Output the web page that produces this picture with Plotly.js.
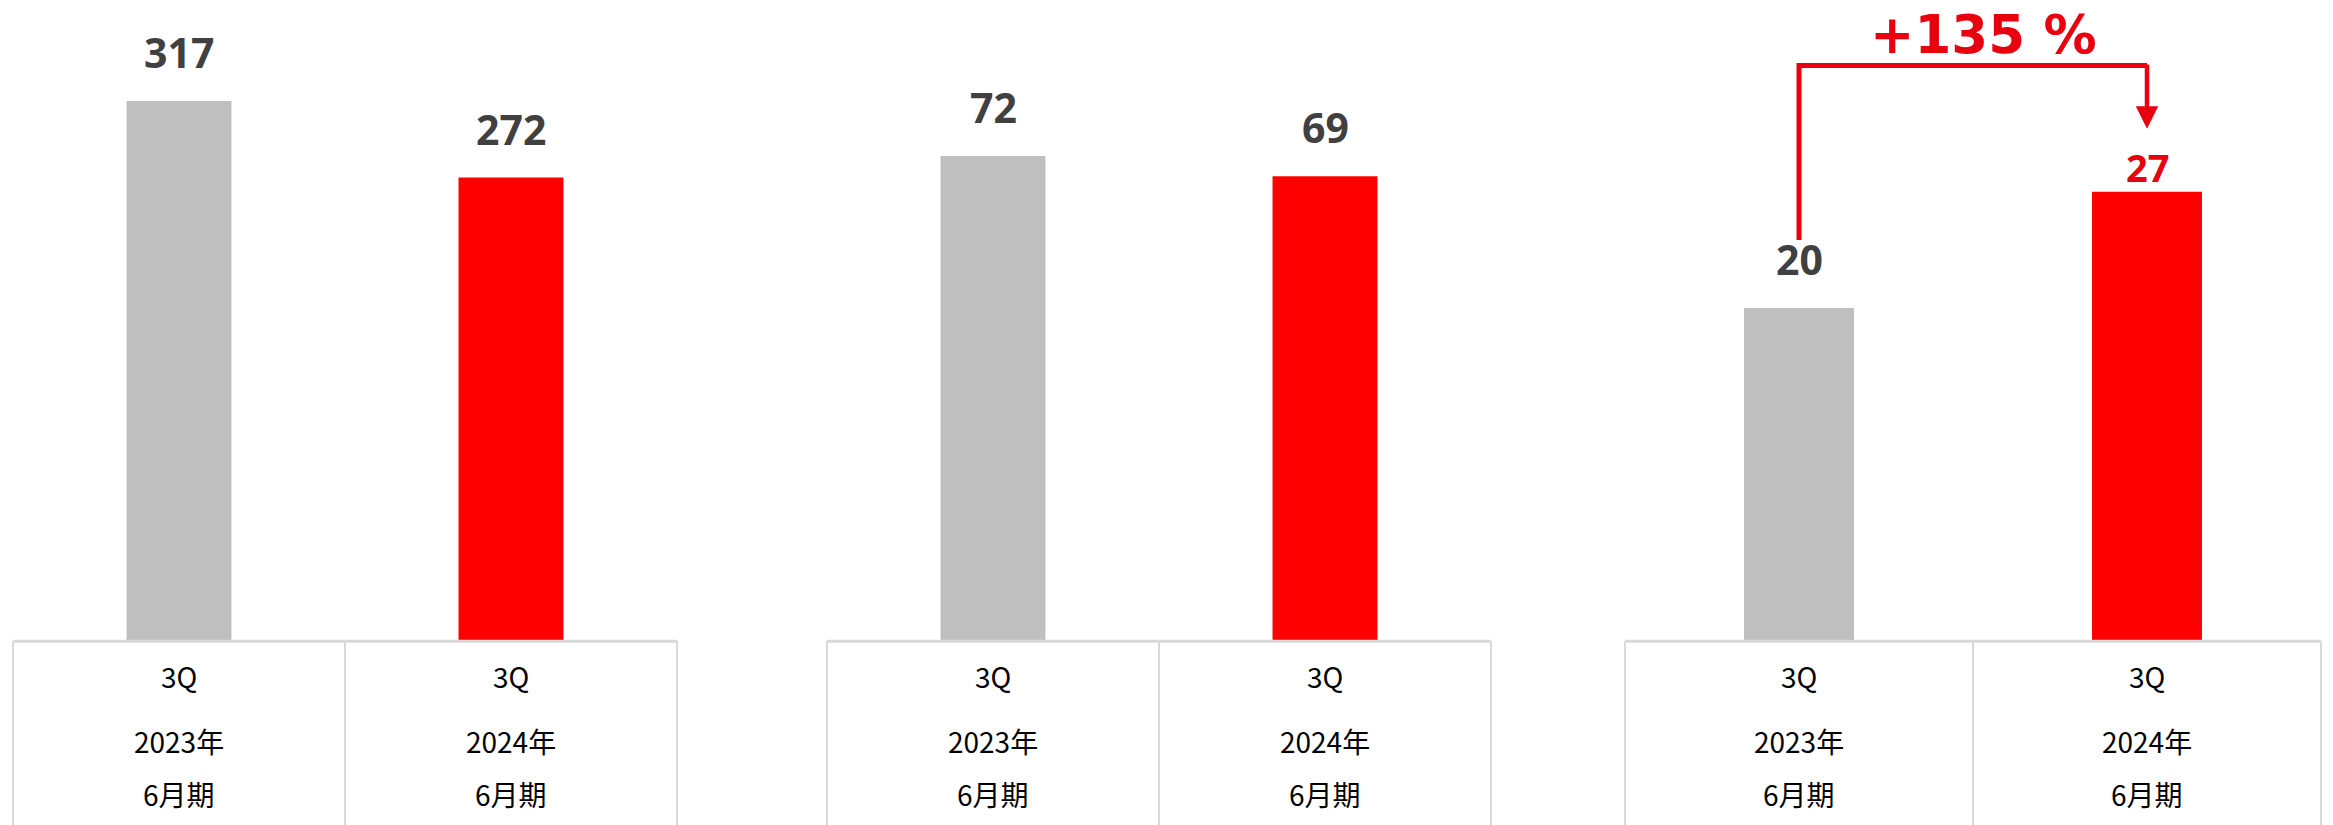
<!DOCTYPE html>
<html>
<head>
<meta charset="utf-8">
<script src="https://cdn.plot.ly/plotly-3.0.1.min.js"></script>
<style>html,body{margin:0;padding:0;background:#fff;}#chart{width:2333px;height:825px;}</style>
</head>
<body>
<div id="chart"></div>
<script>
// ---- data ----
const categories = ["2023年", "2024年"];
const quarterLabel = "3Q";
const termLabel = "6月期";
const panel1Values = [317, 272];
const panel2Values = [72, 69];
const panel3Values = [20, 27];
const growthLabel = "+135 %";

const barColors = ["#BFBFBF", "#FF0000"];
const red = "#E8000F";
const labelFont = "'Noto Sans', 'Noto Sans CJK JP', sans-serif";
const cjkFont = "'Noto Sans CJK JP', 'Noto Sans', sans-serif";

const panels = [
  {vals: panel1Values, xa: "x", ya: "y", dom: [13/2333, 677/2333], ymax: 376.4},
  {vals: panel2Values, xa: "x2", ya: "y2", dom: [827/2333, 1491/2333], ymax: 95.2},
  {vals: panel3Values, xa: "x3", ya: "y3", dom: [1625/2333, 2321/2333], ymax: 38.55}
];

const traces = [];
const annotations = [];
const shapes = [];
const lineColor = "#D9D9D9";

panels.forEach((p, i) => {
  traces.push({
    type: "bar", x: categories, y: p.vals, xaxis: p.xa, yaxis: p.ya,
    marker: {color: barColors}, hoverinfo: "skip", showlegend: false
  });
  p.vals.forEach((v, j) => {
    const highlight = (i === 2 && j === 1);
    annotations.push({
      x: categories[j], y: v, xref: p.xa, yref: p.ya, text: String(v),
      showarrow: false, yanchor: "middle", yshift: highlight ? 25 : 49,
      font: {family: labelFont, size: highlight ? 38 : 41, color: highlight ? red : "#404040", weight: 700}
    });
    const rows = [[quarterLabel, -0.057], [categories[j], -0.158], [termLabel, -0.240]];
    rows.forEach(r => {
      annotations.push({
        x: categories[j], y: r[1], xref: p.xa, yref: "paper", text: r[0],
        showarrow: false, yanchor: "middle",
        font: {family: cjkFont, size: 28, color: "#000000"}
      });
    });
  });
  // table grid
  const xd = p.xa + " domain";
  shapes.push({type: "line", xref: xd, yref: "paper", x0: 0, x1: 1, y0: -0.002, y1: -0.002, line: {color: lineColor, width: 3}});
  [0, 0.5, 1].forEach(xx => {
    shapes.push({type: "line", xref: xd, yref: "paper", x0: xx, x1: xx, y0: -0.002, y1: -0.3, line: {color: lineColor, width: 2}});
  });
});

// growth bracket on panel 3
shapes.push({type: "line", xref: "x3", yref: "y3", x0: 0, x1: 0, y0: 24.1, y1: 34.75, line: {color: red, width: 5}});
shapes.push({type: "line", xref: "x3", yref: "y3", x0: 0, x1: 1, y0: 34.6, y1: 34.6, line: {color: red, width: 5}});
annotations.push({
  x: 1, y: 30.8, xref: "x3", yref: "y3", ax: 1, ay: 34.75, axref: "x3", ayref: "y3",
  showarrow: true, arrowhead: 2, arrowsize: 1, arrowwidth: 4.5, arrowcolor: red, text: ""
});
annotations.push({
  x: 0.53, y: 36.45, xref: "x3", yref: "y3", text: growthLabel, showarrow: false, yanchor: "middle",
  borderpad: 0,
  font: {family: "'DejaVu Sans', 'Noto Sans', sans-serif", size: 53, color: red, weight: 700}
});

const axisBase = {type: "category", showgrid: false, zeroline: false, showline: false, showticklabels: false, ticks: "", fixedrange: true, range: [-0.5, 1.5]};
const yBase = {showgrid: false, zeroline: false, showline: false, showticklabels: false, ticks: "", fixedrange: true};

const layout = {
  width: 2333, height: 825,
  margin: {l: 0, r: 0, t: 0, b: 185},
  paper_bgcolor: "#ffffff", plot_bgcolor: "#ffffff",
  bargap: 0.684,
  showlegend: false,
  xaxis: Object.assign({}, axisBase, {domain: panels[0].dom, anchor: "y"}),
  xaxis2: Object.assign({}, axisBase, {domain: panels[1].dom, anchor: "y2"}),
  xaxis3: Object.assign({}, axisBase, {domain: panels[2].dom, anchor: "y3"}),
  yaxis: Object.assign({}, yBase, {range: [0, panels[0].ymax], anchor: "x"}),
  yaxis2: Object.assign({}, yBase, {range: [0, panels[1].ymax], anchor: "x2"}),
  yaxis3: Object.assign({}, yBase, {range: [0, panels[2].ymax], anchor: "x3"}),
  annotations: annotations,
  shapes: shapes
};

Plotly.newPlot("chart", traces, layout, {displayModeBar: false, staticPlot: true});
</script>
</body>
</html>
